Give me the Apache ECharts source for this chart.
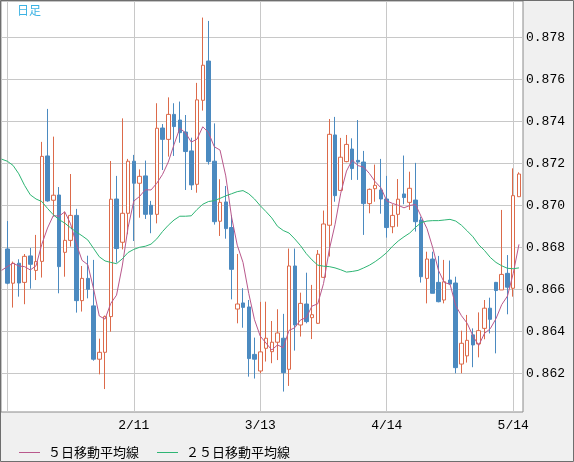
<!DOCTYPE html>
<html>
<head>
<meta charset="utf-8">
<script src="https://cdn.jsdelivr.net/npm/echarts@6/dist/echarts.min.js"></script>
<style>
	html, body { margin: 0; padding: 0; background: #f0f0f0; }
	#chart { width: 574px; height: 462px; }
</style>
</head>
<body>
<div id="chart"></div>
<script>
// daily candles, index 0 .. 89
const opens = [
	0.86792, 0.86629, 0.86724, 0.86633, 0.86759, 0.86690, 0.86733, 0.87235, 0.87024, 0.87049,
	0.86776, 0.86833, 0.86952, 0.86546, 0.86652, 0.86521, 0.86267, 0.86300, 0.86470, 0.87030,
	0.86824, 0.86962, 0.87210, 0.87105, 0.87140, 0.87000, 0.86957, 0.87368, 0.87314, 0.87433,
	0.87406, 0.87349, 0.87259, 0.87100, 0.87500, 0.87687, 0.87210, 0.86924, 0.87016, 0.86894,
	0.86506, 0.86535, 0.86516, 0.86290, 0.86211, 0.86319, 0.86303, 0.86348, 0.86367, 0.86219,
	0.86711, 0.86430, 0.86530, 0.86465, 0.86438, 0.86657, 0.86905, 0.87335, 0.87071, 0.87208,
	0.87268, 0.87214, 0.87206, 0.87008, 0.87079, 0.87073, 0.87030, 0.86898, 0.86957, 0.87054,
	0.87014, 0.87025, 0.86930, 0.86652, 0.86744, 0.86633, 0.86549, 0.86644, 0.86630, 0.86244,
	0.86283, 0.86383, 0.86340, 0.86414, 0.86510, 0.86633, 0.86597, 0.86676, 0.86605, 0.87041
];
const closes = [
	0.86629, 0.86724, 0.86630, 0.86757, 0.86719, 0.86732, 0.87233, 0.87021, 0.87048, 0.86708,
	0.86833, 0.86952, 0.86546, 0.86652, 0.86600, 0.86267, 0.86300, 0.86470, 0.87029, 0.86794,
	0.86962, 0.87210, 0.87105, 0.87138, 0.86957, 0.86957, 0.87367, 0.87314, 0.87433, 0.87375,
	0.87346, 0.87256, 0.87097, 0.87502, 0.87667, 0.87208, 0.86922, 0.87014, 0.86889, 0.86695,
	0.86530, 0.86514, 0.86270, 0.86267, 0.86302, 0.86367, 0.86348, 0.86392, 0.86203, 0.86711,
	0.86430, 0.86533, 0.86446, 0.86479, 0.86767, 0.86911, 0.87338, 0.87046, 0.87229, 0.87290,
	0.87175, 0.87206, 0.87008, 0.87076, 0.87095, 0.87030, 0.86894, 0.86952, 0.87029, 0.87037,
	0.87081, 0.86922, 0.86660, 0.86744, 0.86581, 0.86541, 0.86636, 0.86625, 0.86227, 0.86343,
	0.86357, 0.86335, 0.86403, 0.86510, 0.86457, 0.86594, 0.86671, 0.86610, 0.87046, 0.87149
];
const lows = [
	0.86624, 0.86513, 0.86565, 0.86529, 0.86603, 0.86644, 0.86656, 0.87017, 0.86946, 0.86581,
	0.86660, 0.86803, 0.86489, 0.86494, 0.86557, 0.86260, 0.86195, 0.86125, 0.86398, 0.86727,
	0.86790, 0.86862, 0.86830, 0.86941, 0.86935, 0.86867, 0.86914, 0.87168, 0.87232, 0.87235,
	0.87298, 0.87073, 0.87073, 0.87060, 0.87451, 0.87194, 0.86908, 0.86854, 0.86841, 0.86552,
	0.86438, 0.86417, 0.86184, 0.86175, 0.86200, 0.86256, 0.86248, 0.86263, 0.86113, 0.86140,
	0.86308, 0.86375, 0.86438, 0.86363, 0.86435, 0.86655, 0.86756, 0.87017, 0.87068, 0.87205,
	0.87121, 0.87121, 0.86859, 0.86962, 0.87017, 0.86960, 0.86846, 0.86867, 0.86898, 0.87005,
	0.86978, 0.86875, 0.86632, 0.86533, 0.86581, 0.86538, 0.86533, 0.86622, 0.86200, 0.86200,
	0.86251, 0.86229, 0.86276, 0.86362, 0.86390, 0.86295, 0.86597, 0.86481, 0.86565, 0.87040
];
const highs = [
	0.86925, 0.86732, 0.86743, 0.86768, 0.86797, 0.86859, 0.87302, 0.87459, 0.87327, 0.87087,
	0.86970, 0.87149, 0.86983, 0.86711, 0.86760, 0.86740, 0.86365, 0.86475, 0.87211, 0.87140,
	0.87414, 0.87221, 0.87240, 0.87171, 0.87213, 0.87021, 0.87486, 0.87387, 0.87514, 0.87486,
	0.87494, 0.87430, 0.87322, 0.87583, 0.87894, 0.87878, 0.87390, 0.87124, 0.87092, 0.86952,
	0.86768, 0.86605, 0.86549, 0.86370, 0.86540, 0.86541, 0.86449, 0.86505, 0.86483, 0.86794,
	0.86794, 0.86584, 0.86679, 0.86621, 0.86787, 0.86975, 0.87411, 0.87421, 0.87321, 0.87335,
	0.87319, 0.87406, 0.87259, 0.87080, 0.87194, 0.87221, 0.87140, 0.87005, 0.87125, 0.87237,
	0.87160, 0.87202, 0.86946, 0.86779, 0.86779, 0.86759, 0.86740, 0.86737, 0.86660, 0.86403,
	0.86478, 0.86414, 0.86490, 0.86549, 0.86560, 0.86635, 0.86978, 0.86763, 0.87176, 0.87157
];

// moving averages, index -1 .. 89 (first point sits just left of the plot)
const ma5 = [
	0.86690,
	0.86708, 0.86724, 0.86711, 0.86708, 0.86692, 0.86712, 0.86814, 0.86892, 0.86951, 0.86948,
	0.86969, 0.86912, 0.86817, 0.86738, 0.86717, 0.86603, 0.86473, 0.86458, 0.86533, 0.86572,
	0.86711, 0.86893, 0.87020, 0.87042, 0.87074, 0.87073, 0.87105, 0.87147, 0.87206, 0.87289,
	0.87367, 0.87345, 0.87301, 0.87315, 0.87374, 0.87346, 0.87279, 0.87263, 0.87140, 0.86946,
	0.86810, 0.86728, 0.86580, 0.86455, 0.86377, 0.86344, 0.86311, 0.86335, 0.86322, 0.86404,
	0.86417, 0.86454, 0.86465, 0.86520, 0.86531, 0.86627, 0.86788, 0.86908, 0.87058, 0.87163,
	0.87216, 0.87189, 0.87182, 0.87151, 0.87112, 0.87083, 0.87021, 0.87009, 0.87000, 0.86988,
	0.86999, 0.87004, 0.86946, 0.86889, 0.86798, 0.86690, 0.86632, 0.86625, 0.86522, 0.86474,
	0.86438, 0.86377, 0.86333, 0.86390, 0.86412, 0.86460, 0.86527, 0.86568, 0.86676, 0.86814
];
const ma25 = [
	0.87220,
	0.87210, 0.87190, 0.87150, 0.87095, 0.87050, 0.87030, 0.87018, 0.86985, 0.86955, 0.86932,
	0.86915, 0.86893, 0.86873, 0.86855, 0.86835, 0.86795, 0.86755, 0.86735, 0.86728, 0.86722,
	0.86745, 0.86775, 0.86790, 0.86800, 0.86805, 0.86815, 0.86840, 0.86875, 0.86905, 0.86930,
	0.86948, 0.86948, 0.86950, 0.86980, 0.87005, 0.87018, 0.87022, 0.87033, 0.87045, 0.87055,
	0.87065, 0.87070, 0.87055, 0.87030, 0.86998, 0.86970, 0.86940, 0.86900, 0.86880, 0.86868,
	0.86840, 0.86808, 0.86770, 0.86740, 0.86715, 0.86710, 0.86708, 0.86702, 0.86693, 0.86682,
	0.86685, 0.86690, 0.86702, 0.86715, 0.86732, 0.86752, 0.86775, 0.86805, 0.86830, 0.86850,
	0.86868, 0.86895, 0.86918, 0.86925, 0.86927, 0.86927, 0.86930, 0.86933, 0.86925, 0.86905,
	0.86878, 0.86850, 0.86812, 0.86785, 0.86752, 0.86728, 0.86712, 0.86700, 0.86698, 0.86702
];

const dateTicks = [0, 22, 44, 66, 88];
const dateLabels = ["1/11", "2/11", "3/13", "4/14", "5/14"];
const priceTicks = [0.862, 0.864, 0.866, 0.868, 0.870, 0.872, 0.874, 0.876, 0.878];

const UP = "#dc6a4a";
const DOWN = "#4b8ac0";
const GRID = "#c8c8c8";
const MONO = "Liberation Mono, DejaVu Sans Mono, monospace";
const JP = "Noto Sans CJK JP, sans-serif";

const candles = opens.map((o, i) => [i, o, closes[i], lows[i], highs[i]]);
const ma5Data = ma5.map((v, i) => [i - 1, v]);
const ma25Data = ma25.map((v, i) => [i - 1, v]);

const chart = echarts.init(document.getElementById("chart"), null, {
	width: 574,
	height: 462,
});

chart.setOption({
	animation: false,
	backgroundColor: "#f0f0f0",
	grid: {
		left: 1,
		top: 1,
		width: 522,
		height: 411,
		show: true,
		backgroundColor: "#fff",
		borderColor: "#8a8a8a",
		borderWidth: 1,
	},
	xAxis: {
		type: "value",
		min: -1.095,
		max: 89.7,
		axisLine: { show: false },
		axisTick: { show: false, customValues: dateTicks },
		splitLine: { show: true, lineStyle: { color: GRID, width: 1 } },
		axisLabel: {
			customValues: dateTicks.slice(1),
			formatter: (v) => dateLabels[dateTicks.indexOf(Math.round(v))],
			fontFamily: MONO,
			fontSize: 13,
			color: "#000",
			margin: 7,
		},
	},
	yAxis: {
		type: "value",
		position: "right",
		scale: true,
		min: 0.860157,
		max: 0.879729,
		axisLine: { show: false },
		axisTick: { show: false, customValues: priceTicks },
		splitLine: { show: true, lineStyle: { color: GRID, width: 1 } },
		axisLabel: {
			customValues: priceTicks,
			formatter: (v) => v.toFixed(3),
			fontFamily: MONO,
			fontSize: 13,
			color: "#000",
			margin: 3,
		},
	},
	legend: {
		left: 14,
		top: 441,
		itemWidth: 21,
		itemHeight: 1,
		itemGap: 18,
		icon: "rect",
		textStyle: { fontFamily: JP, fontSize: 13, color: "#000", padding: [0, 0, 0, 3] },
		data: ["５日移動平均線", "２５日移動平均線"],
	},
	graphic: [
		{
			type: "text",
			left: 17,
			top: 4,
			style: { text: "日足", fill: "#3cb2e3", font: "12px " + JP },
		},
		{
			type: "rect",
			shape: { x: 0.5, y: 0.5, width: 573, height: 461 },
			style: { fill: null, stroke: "#6e6e6e", lineWidth: 1 },
			z: 100,
		},
	],
	series: [
		{
			type: "candlestick",
			data: candles,
			encode: { x: 0, y: [1, 2, 3, 4] },
			barWidth: 4,
			itemStyle: {
				color: "#fff",
				color0: DOWN,
				borderColor: UP,
				borderColor0: DOWN,
				borderWidth: 1,
			},
		},
		{
			name: "５日移動平均線",
			type: "line",
			data: ma5Data,
			showSymbol: false,
			color: "#b9588c",
			lineStyle: { width: 1 },
		},
		{
			name: "２５日移動平均線",
			type: "line",
			data: ma25Data,
			showSymbol: false,
			color: "#2eb574",
			lineStyle: { width: 1 },
		},
	],
});
</script>
</body>
</html>
